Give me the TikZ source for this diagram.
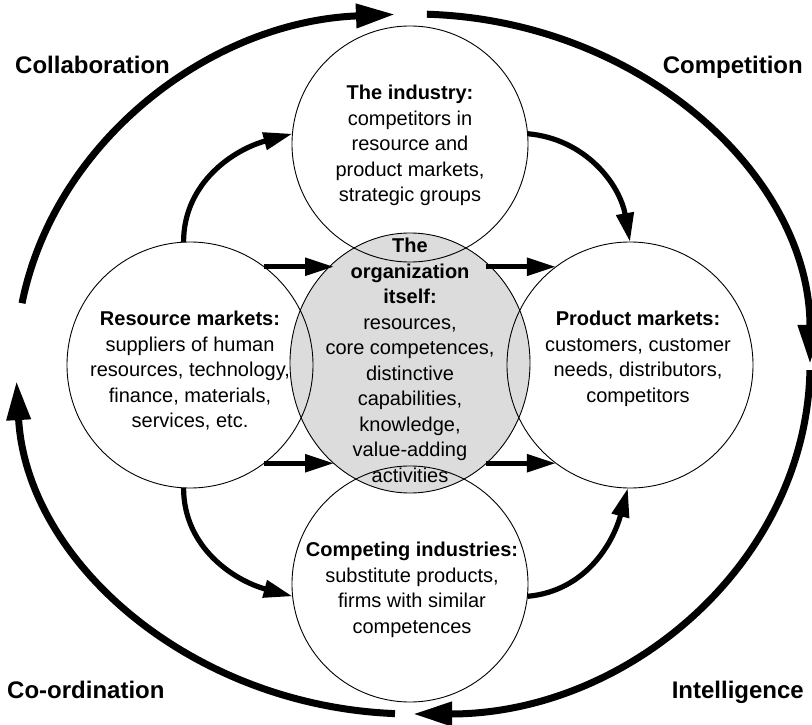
\documentclass[tikz,border=0pt]{standalone}
\usepackage{fontspec}
\setmainfont{Liberation Sans}
\usetikzlibrary{arrows.meta,shapes.geometric,calc}
\definecolor{cgray}{RGB}{220,220,220}
\begin{document}
\begin{tikzpicture}[x=1pt,y=1pt,
  bubble/.style={draw, line width=0.9pt, circle, inner sep=0pt, outer sep=0pt},
  ringarrow/.style={line width=7pt, -{Triangle[length=39pt,width=23pt]}},
  flow/.style={line width=5.2pt, -{Triangle[length=29pt,width=17pt]}},
  txt/.style={align=center, font=\fontsize{20}{25.5}\selectfont, inner sep=0pt},
  lbl/.style={font=\fontsize{24}{28}\selectfont\bfseries, inner sep=0pt}]
\useasboundingbox (0,0) rectangle (812,724);

% circles
\node[ellipse, draw, line width=0.9pt, fill=cgray, minimum width=240pt, minimum height=260pt, inner sep=0pt, outer sep=0pt] (C) at (410,361) {};
\node[bubble, minimum size=236pt] (T) at (410,580) {};
\node[bubble, minimum size=236pt] (B) at (410,140) {};
\node[bubble, minimum size=246pt] (L) at (190,359) {};
\node[bubble, minimum size=246pt] (R) at (630,359) {};

% outer ring
\draw[ringarrow] (413,360) ++(170:397pt and 350pt) arc[start angle=170, end angle=92.6, x radius=397pt, y radius=350pt];
\draw[ringarrow] (413,360) ++(88:397pt and 350pt) arc[start angle=88, end angle=0, x radius=397pt, y radius=350pt];
\draw[ringarrow] (413,360) ++(-1:397pt and 350pt) arc[start angle=-1, end angle=-90, x radius=397pt, y radius=350pt];
\draw[ringarrow] (413,360) ++(-92.6:397pt and 350pt) arc[start angle=-92.6, end angle=-177.2, x radius=397pt, y radius=350pt];

% curved arrows
\draw[flow] (L.93) to[out=90,in=195] (T.175);
\draw[flow] (T.5) to[out=-5,in=100] (R.90);
\draw[flow] (L.267) to[out=270,in=165] (B.186);
\draw[flow] (B.354) to[out=5,in=255] (R.269);

% straight arrows
\draw[flow] (L.53) -- (L.53 -| C.127);
\draw[flow] (R.127 -| C.53) -- (R.127);
\draw[flow] (L.307) -- (L.307 -| C.233);
\draw[flow] (R.233 -| C.307) -- (R.233);

% texts
\node[txt] (Tt) at (410,578.5) {\textbf{The industry:}\\competitors in\\resource and\\product markets,\\strategic groups};
\node[txt] (Lt) at (190,353) {\textbf{Resource markets:}\\suppliers of human\\resources, technology,\\finance, materials,\\services, etc.};
\node[txt] (Ct) at (410,363.5) {\textbf{The}\\\textbf{organization}\\\textbf{itself:}\\resources,\\core competences,\\distinctive\\capabilities,\\knowledge,\\value-adding\\activities};
\node[txt] (Rt) at (638,365) {\textbf{Product markets:}\\customers, customer\\needs, distributors,\\competitors};
\node[txt] (Bt) at (412,134) {\textbf{Competing industries:}\\substitute products,\\firms with similar\\competences};

% labels
\node[lbl, anchor=base west] (collab) at (15,650) {Collaboration};
\node[lbl, anchor=base east] (compet) at (803,650) {Competition};
\node[lbl, anchor=base west] (coord) at (7,26) {Co-ordination};
\node[lbl, anchor=base east] (intel) at (804,26) {Intelligence};
\end{tikzpicture}
\end{document}
